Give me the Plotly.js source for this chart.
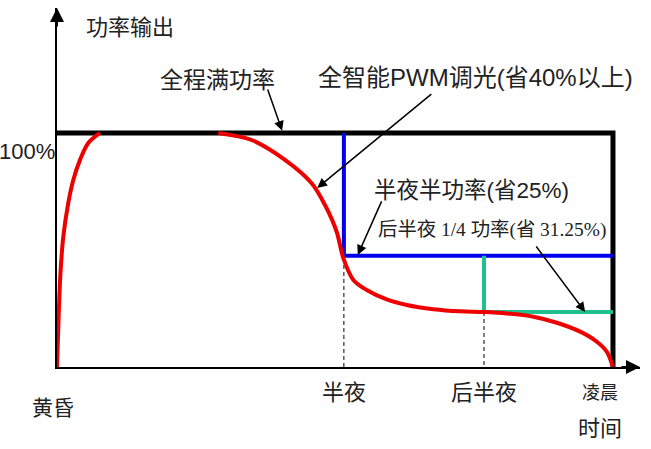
<!DOCTYPE html>
<html>
<head>
<meta charset="utf-8">
<script src="https://cdn.plot.ly/plotly-3.0.1.min.js"></script>
<style>
  html, body { margin: 0; padding: 0; background: #fff; }
  #chart { width: 651px; height: 449px; }
</style>
</head>
<body>
<div id="chart"></div>
<script>
// levels in percent of full power, time on a 0..10 scale (dusk .. dawn)
const fullLevel = 100;
const halfLevel = 47.5;
const quarterLevel = 23.5;

const timeLabels = ["黄昏", "半夜", "后半夜", "凌晨"];
const timeX = [0, 5.16, 7.68, 10];

// red PWM curve: the ramp-up at dusk, then the dimming part
const rampX = [0, 0.03, 0.062, 0.113, 0.203, 0.293, 0.414, 0.563, 0.773];
const rampY = [0, 22, 40, 55.6, 70.1, 79.9, 88.5, 95.7, 100];
const dimX = [2.9, 3.5, 4.1, 4.58, 4.82, 5.03, 5.15, 5.33, 5.57, 5.93, 6.29, 6.77,
  7.25, 7.67, 8.09, 8.57, 8.99, 9.41, 9.71, 9.89, 10];
const dimY = [100, 97.0, 88.5, 78.5, 69.2, 57.8, 46.5, 37.2, 32.9, 28.9, 26.5, 24.7,
  23.8, 23.5, 22.9, 21.5, 18.9, 15.1, 10.8, 6.5, 0];

const midnight = timeX[1];
const lateNight = timeX[2];
const dawn = timeX[3];
const curveAtMidnight = 43.6;

const xMax = 10.486;
const yMax = 153.4;

const textColor = "#222";
const cjk = "Liberation Sans, Noto Sans CJK SC, sans-serif";
const cjkSerif = "Liberation Serif, Noto Sans CJK SC, serif";

const lineTrace = (x, y, color, width, dash) => ({
  type: "scatter",
  mode: "lines",
  x,
  y,
  hoverinfo: "skip",
  line: { color, width, dash: dash || "solid" },
});

const curveX = [...rampX, null, ...dimX];
const curveY = [...rampY, null, ...dimY];

const data = [
  lineTrace([midnight, midnight], [curveAtMidnight, 0], "#000", 1, "4px,3px"),
  lineTrace([lateNight, lateNight], [quarterLevel, 0], "#000", 1, "4px,3px"),
  lineTrace([0, dawn, dawn], [fullLevel, fullLevel, 0], "#000", 5),
  lineTrace([midnight, midnight, dawn], [fullLevel, halfLevel, halfLevel], "#0000ee", 4),
  lineTrace([lateNight, lateNight, dawn], [halfLevel, quarterLevel, quarterLevel], "#1fbf8f", 4),
  Object.assign(lineTrace(curveX, curveY, "#ee0000", 4), {
    line: { color: "#ee0000", width: 4, shape: "spline", smoothing: 0.9 },
    connectgaps: false,
  }),
];

// labels are placed in paper units so the ones under the axis are not dropped
const label = (text, x, y, size, extra) => Object.assign({
  text, x: x / xMax, y: y / yMax, xref: "paper", yref: "paper", showarrow: false,
  xanchor: "center", yanchor: "middle",
  font: { family: cjk, size, color: textColor },
}, extra || {});

const pointer = (x, y, ax, ay) => ({
  x, y, ax, ay, xref: "x", yref: "y", axref: "x", ayref: "y",
  text: "", showarrow: true, arrowhead: 2, arrowsize: 1.3, arrowwidth: 1.5,
  arrowcolor: "#000",
});

const axisEnd = (x, y, ax, ay) => ({
  x, y, ax, ay, xref: "x", yref: "y",
  text: "", showarrow: true, arrowhead: 2, arrowsize: 1.4, arrowwidth: 2,
  arrowcolor: "#000",
});

const annotations = [
  label("功率输出", 1.31, 144.9, 22),
  label("全程满功率", 2.88, 122.6, 23),
  label("全智能PWM调光(省40%以上)", 7.52, 123.5, 24),
  label("100%", 0, 91.9, 22, { xanchor: "right" }),
  label("半夜半功率(省25%)", 7.46, 75.6, 22.5),
  label("后半夜 1/4 功率(省 31.25%)", 7.82, 58.5, 19.4, {
    font: { family: cjkSerif, size: 19.4, color: textColor },
  }),
  label(timeLabels[0], -0.07, -17.5, 21),
  label(timeLabels[1], midnight, -10.7, 22),
  label(timeLabels[2], lateNight, -10.7, 22),
  label(timeLabels[3], 9.77, -11.1, 18),
  label("时间", 9.77, -26.1, 22),
  pointer(4.05, 100.9, 3.78, 119.2),
  pointer(4.68, 76.5, 6.76, 117.1),
  pointer(5.41, 47.9, 5.85, 71.4),
  pointer(9.5, 23.5, 8.6, 52.1),
  axisEnd(xMax, 0, -20, 0),
  axisEnd(0, yMax, 0, 20),
];

const axisBase = {
  showgrid: false,
  zeroline: false,
  showticklabels: false,
  ticks: "",
  showline: true,
  linecolor: "#000",
  linewidth: 2,
  fixedrange: true,
};

const layout = {
  width: 651,
  height: 449,
  margin: { l: 57, r: 11, t: 8, b: 82 },
  paper_bgcolor: "#fff",
  plot_bgcolor: "#fff",
  showlegend: false,
  hovermode: false,
  xaxis: Object.assign({ range: [0, xMax] }, axisBase),
  yaxis: Object.assign({ range: [0, yMax] }, axisBase),
  annotations,
};

Plotly.newPlot("chart", data, layout, { displayModeBar: false, staticPlot: true });
</script>
</body>
</html>
